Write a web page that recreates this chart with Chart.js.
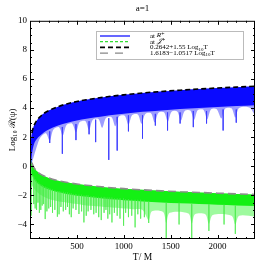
<!DOCTYPE html>
<html>
<head>
<meta charset="utf-8">
<script src="https://cdn.jsdelivr.net/npm/chart.js@4/dist/chart.umd.min.js"></script>
<style>
  html, body { margin: 0; padding: 0; background: #fff; }
</style>
</head>
<body>
<canvas id="chart" width="266" height="266"></canvas>
<script>
// tick labels
const xTickValues = [500, 1000, 1500, 2000]
const yTickValues = [-4, -2, 0, 2, 4, 6, 8, 10]

// fitted envelopes
const fitT = [20, 30, 50, 75, 100, 150, 200, 300, 400, 500, 600, 700, 800, 900, 1000, 1200, 1400, 1600, 1800, 2000, 2200, 2400]
const fitR = [2.28, 2.55, 2.90, 3.17, 3.36, 3.64, 3.83, 4.10, 4.30, 4.45, 4.57, 4.67, 4.76, 4.84, 4.91, 5.04, 5.14, 5.23, 5.31, 5.38, 5.44, 5.50]
const fitJ = [0.25, 0.07, -0.17, -0.35, -0.49, -0.67, -0.80, -0.99, -1.12, -1.22, -1.30, -1.37, -1.44, -1.49, -1.54, -1.62, -1.69, -1.75, -1.80, -1.85, -1.90, -1.94]

// dense part of each signal
const bandT = [10, 20, 30, 50, 75, 100, 150, 200, 300, 400, 500, 600, 700, 800, 900, 1000, 1200, 1400, 1600, 1800, 2000, 2200, 2400]
const bandRTop = [1.81, 2.28, 2.55, 2.90, 3.17, 3.36, 3.64, 3.83, 4.10, 4.30, 4.45, 4.57, 4.67, 4.76, 4.84, 4.91, 5.04, 5.14, 5.23, 5.31, 5.38, 5.44, 5.50]
const bandRLow = [0.1, 0.8, 1.2, 1.65, 1.9, 2.06, 2.34, 2.53, 2.80, 3.00, 3.15, 3.27, 3.37, 3.46, 3.54, 3.61, 3.74, 3.84, 3.93, 4.01, 4.08, 4.14, 4.20]
const bandJTop = [0.57, 0.25, 0.07, -0.17, -0.35, -0.49, -0.67, -0.80, -0.99, -1.12, -1.22, -1.30, -1.37, -1.44, -1.49, -1.54, -1.62, -1.69, -1.75, -1.80, -1.85, -1.90, -1.94]
const bandJLow = [-0.3, -0.55, -0.75, -0.97, -1.15, -1.29, -1.47, -1.60, -1.79, -1.92, -2.02, -2.10, -2.17, -2.24, -2.29, -2.34, -2.42, -2.49, -2.55, -2.60, -2.65, -2.70, -2.74]

// lower edge of the sparse part (arches and cusps)
const scallopRT = [10, 70, 110, 170, 210, 250, 310, 350, 390, 450, 490, 530, 590, 630, 670, 730, 770, 810, 870, 910, 950, 1010, 1050, 1090, 1150, 1190, 1230, 1290, 1330, 1370, 1430, 1470, 1510, 1570, 1610, 1650, 1710, 1750, 1790, 1850, 1890, 1930, 1990, 2040, 2080, 2150, 2190, 2230, 2340, 2400]
const scallopRV = [0.0, 1.3, 1.98, 2.27, 1.76, 2.53, 2.68, 2.11, 2.83, 2.93, 2.33, 3.04, 3.11, 2.50, 3.20, 3.25, 2.64, 3.32, 3.37, 2.75, 3.43, 3.47, 2.85, 3.52, 3.56, 2.93, 3.60, 3.64, 3.01, 3.68, 3.71, 3.07, 3.74, 3.77, 3.14, 3.80, 3.83, 3.19, 3.86, 3.88, 3.24, 3.91, 3.93, 3.29, 3.96, 3.98, 3.34, 4.00, 4.04, 3.5]
const scallopJT = [10, 50, 100, 200, 300, 400, 500, 600, 700, 800, 900, 1000, 1100, 1200, 1266, 1300, 1420, 1453, 1490, 1690, 1725, 1760, 1870, 1908, 1950, 2150, 2190, 2230, 2400]
const scallopJV = [-1.2, -1.6, -1.9, -2.25, -2.4, -2.5, -2.6, -2.7, -2.75, -2.8, -2.85, -2.9, -2.95, -3.0, -3.7, -3.1, -3.15, -3.9, -3.2, -3.25, -3.95, -3.3, -3.3, -3.95, -3.35, -3.4, -4.0, -3.4, -3.45]

// deep dips
const spikeRT = [3, 210, 345, 490, 630, 700, 840, 930, 1050, 1200, 1337, 1467, 1601, 1742, 1883, 2060, 2200]
const spikeRTop = [1.6, 2.4, 2.7, 2.9, 3.1, 3.2, 3.3, 3.4, 3.5, 3.5, 3.6, 3.7, 3.7, 3.8, 3.8, 3.9, 3.9]
const spikeRBottom = [-5, 1.6, 0.86, 1.8, 2.2, 1.66, 0.44, 1.08, 2.4, 1.9, 2.8, 2.46, 2.94, 2.69, 2.94, 2.46, 3.0]
const spikeJT = [12, 40, 55, 70, 85, 100, 115, 130, 145, 162, 180, 200, 220, 240, 265, 292, 310, 330, 355, 380, 400, 420, 440, 460, 490, 522, 550, 575, 600, 620, 650, 680, 705, 733, 760, 790, 810, 830, 850, 874, 900, 930, 960, 998, 1020, 1050, 1085, 1121, 1150, 1180, 1220, 1266, 1453, 1590, 1725, 1908, 2070, 2190]
const spikeJTop = [0.2, -0.7, -0.9, -1.0, -1.1, -1.2, -1.25, -1.3, -1.35, -1.4, -1.45, -1.5, -1.55, -1.6, -1.65, -1.7, -1.7, -1.75, -1.75, -1.8, -1.8, -1.85, -1.85, -1.9, -1.9, -1.95, -1.95, -2.0, -2.0, -2.0, -2.05, -2.05, -2.1, -2.1, -2.1, -2.1, -2.15, -2.15, -2.15, -2.15, -2.2, -2.2, -2.2, -2.2, -2.25, -2.25, -2.3, -2.3, -2.3, -2.3, -2.35, -2.4, -2.5, -2.5, -2.6, -2.6, -2.65, -2.7]
const spikeJBottom = [-3.4, -2.6, -2.9, -3.0, -2.5, -3.2, -3.0, -2.7, -2.6, -3.63, -3.1, -2.9, -2.8, -3.2, -3.0, -3.47, -3.3, -2.8, -3.1, -3.0, -2.8, -3.3, -3.5, -2.9, -3.0, -3.28, -3.1, -3.86, -3.4, -3.1, -3.0, -3.3, -3.2, -3.5, -3.7, -3.2, -3.0, -3.6, -3.3, -3.86, -3.2, -3.4, -3.6, -4.09, -3.2, -3.5, -3.4, -4.2, -3.3, -3.6, -3.5, -3.9, -5, -4.0, -5, -4.45, -4.0, -4.65]

const legendLabels = ["at ", "at ", "0.2642+1.55 Log", "1.6183\u22121.0517 Log"]

const serif = "'Liberation Serif', 'DejaVu Serif', serif"

function pts(xs, ys) {
  return xs.map((x, i) => ({ x: x, y: ys[i] }))
}

function spikes(xs, tops, bottoms) {
  const out = []
  xs.forEach((x, i) => {
    out.push({ x: x, y: tops[i] }, { x: x, y: bottoms[i] }, { x: x, y: null })
  })
  return out
}

const hidden = { borderWidth: 0, borderColor: "rgba(0,0,0,0)", pointRadius: 0, fill: false }

// frame with inward ticks on all four sides
const framePlugin = {
  id: "frame",
  afterDraw(chart) {
    const { ctx, chartArea: a, scales } = chart
    const x = scales.x
    const y = scales.y
    ctx.save()
    ctx.strokeStyle = "#000"
    ctx.lineWidth = 1
    ctx.strokeRect(a.left + 0.5, a.top + 0.5, a.right - a.left - 1, a.bottom - a.top - 1)
    ctx.beginPath()
    for (let v = 100; v < 2400; v += 100) {
      const px = Math.round(x.getPixelForValue(v)) + 0.5
      const len = v % 500 === 0 ? 4 : 2
      ctx.moveTo(px, a.bottom); ctx.lineTo(px, a.bottom - len)
      ctx.moveTo(px, a.top); ctx.lineTo(px, a.top + len)
    }
    for (let v = -4.5; v < 10; v += 0.5) {
      const py = Math.round(y.getPixelForValue(v)) + 0.5
      const len = v % 2 === 0 ? 4 : 2
      ctx.moveTo(a.left, py); ctx.lineTo(a.left + len, py)
      ctx.moveTo(a.right, py); ctx.lineTo(a.right - len, py)
    }
    ctx.stroke()
    ctx.restore()
  }
}

// legend box inside the plot
const legendPlugin = {
  id: "boxLegend",
  afterDraw(chart) {
    const ctx = chart.ctx
    const entries = [
      { color: "#0000ff", dash: [], width: 1.2, text: legendLabels[0], it: "R\u207A" },
      { color: "#33dd33", dash: [3, 2], width: 1.2, text: legendLabels[1], it: "\uD835\uDCA5\u207A" },
      { color: "#000000", dash: [5, 3], width: 1.6, text: legendLabels[2], sub: "10", tail: "T" },
      { color: "#888888", dash: [8, 7], width: 1.2, text: legendLabels[3], sub: "10", tail: "T" }
    ]
    ctx.save()
    ctx.fillStyle = "#fff"
    ctx.fillRect(96, 31, 147, 28)
    ctx.setLineDash([1, 1])
    ctx.strokeStyle = "#777"
    ctx.lineWidth = 1
    ctx.strokeRect(96.5, 31.5, 147, 28)
    ctx.textBaseline = "middle"
    entries.forEach((e, i) => {
      const yy = 36 + i * 5.7
      ctx.setLineDash(e.dash)
      ctx.strokeStyle = e.color
      ctx.lineWidth = e.width
      ctx.beginPath()
      ctx.moveTo(100, yy)
      ctx.lineTo(130, yy)
      ctx.stroke()
      ctx.fillStyle = "#000"
      ctx.font = "7px " + serif
      let tx = 150
      ctx.fillText(e.text, tx, yy)
      tx += ctx.measureText(e.text).width
      if (e.it) {
        ctx.font = "italic 7px " + serif
        ctx.fillText(e.it, tx, yy - 0.5)
      }
      if (e.sub) {
        ctx.font = "5px " + serif
        ctx.fillText(e.sub, tx, yy + 1.8)
        tx += ctx.measureText(e.sub).width
        ctx.font = "7px " + serif
        ctx.fillText(e.tail, tx, yy)
      }
    })
    ctx.restore()
  }
}

new Chart(document.getElementById("chart"), {
  type: "line",
  data: {
    datasets: [
      { data: pts(fitT, fitR), borderColor: "#000", borderWidth: 1.6, borderDash: [5, 3], pointRadius: 0, fill: false, cubicInterpolationMode: "monotone" },
      { data: pts(fitT, fitJ), borderColor: "#8c8c8c", borderWidth: 1.6, borderDash: [8, 4], pointRadius: 0, fill: false, cubicInterpolationMode: "monotone" },
      { data: spikes(spikeRT, spikeRTop, spikeRBottom), borderColor: "rgba(60,60,255,0.8)", borderWidth: 1, pointRadius: 0, fill: false, spanGaps: false },
      { data: spikes(spikeJT, spikeJTop, spikeJBottom), borderColor: "rgba(70,235,70,0.55)", borderWidth: 1, pointRadius: 0, fill: false, spanGaps: false },
      { ...hidden, data: pts(bandT, bandRTop), fill: "+1", backgroundColor: "rgb(10,10,255)", cubicInterpolationMode: "monotone" },
      { ...hidden, data: pts(bandT, bandRLow), cubicInterpolationMode: "monotone" },
      { ...hidden, data: pts(bandT, bandRTop), fill: "+1", backgroundColor: "rgba(60,60,255,0.5)", cubicInterpolationMode: "monotone" },
      { ...hidden, data: pts(scallopRT, scallopRV), tension: 0.3 },
      { ...hidden, data: pts(bandT, bandJTop), fill: "+1", backgroundColor: "rgb(20,240,20)", cubicInterpolationMode: "monotone" },
      { ...hidden, data: pts(bandT, bandJLow), cubicInterpolationMode: "monotone" },
      { ...hidden, data: pts(bandT, bandJTop), fill: "+1", backgroundColor: "rgba(40,245,40,0.45)", cubicInterpolationMode: "monotone" },
      { ...hidden, data: pts(scallopJT, scallopJV), tension: 0.3 }
    ]
  },
  options: {
    responsive: false,
    animation: false,
    events: [],
    layout: { padding: { left: 0, right: 11, top: 0, bottom: 0 } },
    plugins: {
      legend: { display: false },
      tooltip: { enabled: false },
      title: {
        display: true,
        text: "a=1",
        fullSize: false,
        color: "#000",
        font: { family: serif, size: 9, weight: "normal" },
        padding: { top: 3, bottom: 7 }
      }
    },
    scales: {
      x: {
        type: "linear",
        min: 0,
        max: 2400,
        border: { display: false },
        grid: { display: false, drawTicks: false },
        afterBuildTicks: (s) => { s.ticks = xTickValues.map((v) => ({ value: v })) },
        ticks: {
          padding: 2,
          color: "#000",
          maxRotation: 0,
          autoSkip: false,
          font: { family: serif, size: 9 },
          callback: (v) => String(v)
        },
        title: { display: true, text: "T/ M", color: "#000", font: { family: serif, size: 9.5 }, padding: { top: 0, bottom: 3 } },
        afterFit: (s) => { s.height = 27 }
      },
      y: {
        min: -5,
        max: 10,
        border: { display: false },
        grid: { display: false, drawTicks: false },
        afterBuildTicks: (s) => { s.ticks = yTickValues.map((v) => ({ value: v })) },
        ticks: {
          padding: 3,
          color: "#000",
          autoSkip: false,
          font: { family: serif, size: 9 },
          callback: (v) => (v < 0 ? "\u2212" + Math.abs(v) : String(v))
        },
        title: { display: true, text: "Log\u2081\u2080 \u211B(\u03C8)", color: "#000", font: { family: serif, size: 9 }, padding: { top: 7, bottom: 0 } },
        afterFit: (s) => { s.width = 30 }
      }
    }
  },
  plugins: [framePlugin, legendPlugin]
})
</script>
</body>
</html>
